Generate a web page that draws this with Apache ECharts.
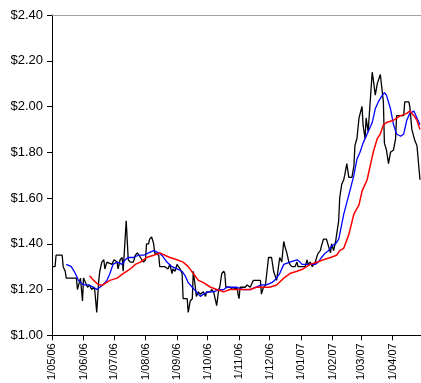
<!DOCTYPE html>
<html>
<head>
<meta charset="utf-8">
<script src="https://cdn.jsdelivr.net/npm/echarts@6/dist/echarts.min.js"></script>
<style>
  html, body { margin: 0; padding: 0; background: #fff; }
  #chart { width: 421px; height: 383px; }
</style>
</head>
<body>
<div id="chart"></div>
<script>
// Axis range (calendar days) and y scale
const firstDay = '2006-05-01';
const lastDay = '2007-04-29';
const yTicks = [1.00, 1.20, 1.40, 1.60, 1.80, 2.00, 2.20, 2.40];

// Daily price
const priceDates = [
  '2006-05-01','2006-05-04','2006-05-05','2006-05-11','2006-05-12','2006-05-14','2006-05-15','2006-05-25','2006-05-26','2006-05-29',
  '2006-05-31','2006-06-01','2006-06-03','2006-06-05','2006-06-07','2006-06-09','2006-06-11','2006-06-12','2006-06-14','2006-06-16',
  '2006-06-17','2006-06-19','2006-06-21','2006-06-22','2006-06-24','2006-06-29','2006-07-01','2006-07-04','2006-07-05','2006-07-07',
  '2006-07-09','2006-07-10','2006-07-13','2006-07-15','2006-07-17','2006-07-20','2006-07-22','2006-07-24','2006-07-27','2006-07-30',
  '2006-08-01','2006-08-02','2006-08-04','2006-08-05','2006-08-07','2006-08-09','2006-08-10','2006-08-14','2006-08-15','2006-08-20',
  '2006-08-23','2006-08-25','2006-08-27','2006-08-28','2006-08-30','2006-09-01','2006-09-04','2006-09-06','2006-09-07','2006-09-11',
  '2006-09-12','2006-09-14','2006-09-16','2006-09-17','2006-09-19','2006-09-20','2006-09-22','2006-09-24','2006-09-27','2006-09-29',
  '2006-09-30','2006-10-04','2006-10-05','2006-10-07','2006-10-08','2006-10-10','2006-10-12','2006-10-13','2006-10-15','2006-10-17',
  '2006-10-18','2006-10-19','2006-10-23','2006-10-26','2006-10-30','2006-10-31','2006-11-01','2006-11-02','2006-11-07','2006-11-09',
  '2006-11-12','2006-11-15','2006-11-22','2006-11-23','2006-11-25','2006-11-27','2006-11-28','2006-11-30','2006-12-03','2006-12-05',
  '2006-12-08','2006-12-11','2006-12-13','2006-12-15','2006-12-16','2006-12-18','2006-12-20','2006-12-21','2006-12-23','2006-12-26',
  '2006-12-28','2006-12-29','2007-01-05','2007-01-07','2007-01-08','2007-01-10','2007-01-12','2007-01-15','2007-01-17','2007-01-18',
  '2007-01-20','2007-01-21','2007-01-23','2007-01-26','2007-01-28','2007-01-30','2007-01-31','2007-02-02','2007-02-04','2007-02-05',
  '2007-02-07','2007-02-08','2007-02-10','2007-02-12','2007-02-13','2007-02-15','2007-02-17','2007-02-20','2007-02-22','2007-02-23',
  '2007-02-25','2007-02-27','2007-02-28','2007-03-02','2007-03-03','2007-03-05','2007-03-06','2007-03-07','2007-03-08','2007-03-10',
  '2007-03-12','2007-03-13','2007-03-15','2007-03-17','2007-03-18','2007-03-20','2007-03-21','2007-03-23','2007-03-24','2007-03-26',
  '2007-03-28','2007-03-30','2007-03-31','2007-04-02','2007-04-04','2007-04-05','2007-04-09','2007-04-12','2007-04-13','2007-04-17',
  '2007-04-18','2007-04-20','2007-04-23','2007-04-25','2007-04-28'
];
const priceValues = [
  1.30,1.30,1.35,1.35,1.30,1.28,1.25,1.25,1.20,1.25,
  1.15,1.25,1.23,1.21,1.22,1.20,1.21,1.20,1.10,1.24,
  1.28,1.32,1.33,1.29,1.32,1.31,1.33,1.32,1.29,1.33,
  1.34,1.28,1.50,1.33,1.32,1.32,1.35,1.36,1.34,1.32,
  1.33,1.40,1.40,1.42,1.43,1.40,1.36,1.35,1.30,1.30,
  1.29,1.31,1.27,1.29,1.28,1.31,1.29,1.27,1.16,1.16,
  1.10,1.15,1.16,1.28,1.21,1.17,1.19,1.18,1.19,1.17,
  1.19,1.19,1.20,1.19,1.19,1.13,1.20,1.21,1.27,1.28,
  1.27,1.21,1.21,1.20,1.21,1.18,1.16,1.21,1.21,1.22,
  1.21,1.24,1.24,1.18,1.21,1.22,1.22,1.34,1.34,1.28,
  1.24,1.34,1.32,1.41,1.39,1.36,1.32,1.31,1.30,1.30,
  1.32,1.30,1.30,1.33,1.31,1.32,1.30,1.32,1.35,1.36,
  1.37,1.39,1.42,1.42,1.39,1.36,1.40,1.37,1.41,1.44,
  1.50,1.60,1.66,1.68,1.70,1.75,1.69,1.69,1.74,1.83,
  1.86,1.95,1.95,2.00,1.92,1.86,1.95,1.92,1.89,2.02,
  2.15,2.12,2.05,2.10,2.10,2.14,2.14,2.02,1.84,1.81,
  1.75,1.80,1.80,1.81,1.86,1.96,1.96,1.96,2.02,2.02,
  2.00,1.90,1.85,1.83,1.68
];

// Short moving average
const shortAvgDates = [
  '2006-05-15','2006-05-20','2006-05-24','2006-05-27','2006-06-01','2006-06-06','2006-06-11','2006-06-14','2006-06-17','2006-06-20',
  '2006-06-24','2006-06-27','2006-06-30','2006-07-04','2006-07-09','2006-07-12','2006-07-15','2006-07-20','2006-07-25','2006-07-30',
  '2006-08-04','2006-08-09','2006-08-14','2006-08-17','2006-08-22','2006-08-27','2006-09-01','2006-09-06','2006-09-09','2006-09-12',
  '2006-09-16','2006-09-20','2006-09-24','2006-09-27','2006-10-02','2006-10-07','2006-10-12','2006-10-17','2006-10-20','2006-10-25',
  '2006-10-30','2006-11-05','2006-11-12','2006-11-17','2006-11-23','2006-11-28','2006-12-03','2006-12-06','2006-12-11','2006-12-15',
  '2006-12-21','2006-12-28','2006-12-31','2007-01-02','2007-01-10','2007-01-15','2007-01-18','2007-01-21','2007-01-25','2007-01-28',
  '2007-01-31','2007-02-04','2007-02-07','2007-02-08','2007-02-12','2007-02-15','2007-02-18','2007-02-22','2007-02-25','2007-02-28',
  '2007-03-03','2007-03-08','2007-03-12','2007-03-15','2007-03-18','2007-03-22','2007-03-24','2007-03-26','2007-03-30','2007-04-02',
  '2007-04-05','2007-04-09','2007-04-12','2007-04-15','2007-04-18','2007-04-22','2007-04-25','2007-04-28'
];
const shortAvgValues = [
  1.31,1.30,1.27,1.24,1.22,1.22,1.21,1.20,1.21,1.22,
  1.24,1.27,1.31,1.32,1.31,1.33,1.34,1.34,1.35,1.35,
  1.36,1.37,1.36,1.35,1.32,1.30,1.29,1.28,1.26,1.23,
  1.21,1.19,1.17,1.18,1.19,1.19,1.20,1.20,1.21,1.21,
  1.21,1.20,1.20,1.21,1.22,1.22,1.23,1.24,1.27,1.31,
  1.32,1.33,1.32,1.31,1.31,1.31,1.32,1.34,1.36,1.37,
  1.39,1.40,1.42,1.44,1.53,1.58,1.63,1.70,1.77,1.80,
  1.84,1.89,1.93,1.99,2.02,2.05,2.06,2.05,1.99,1.92,
  1.88,1.87,1.88,1.94,1.97,1.98,1.95,1.92
];

// Long moving average
const longAvgDates = [
  '2006-06-07','2006-06-11','2006-06-16','2006-06-20','2006-06-27','2006-07-04','2006-07-10','2006-07-17','2006-07-22','2006-07-27',
  '2006-08-02','2006-08-09','2006-08-15','2006-08-20','2006-08-25','2006-09-01','2006-09-07','2006-09-12','2006-09-17','2006-09-22',
  '2006-09-27','2006-10-04','2006-10-10','2006-10-17','2006-10-23','2006-11-05','2006-11-12','2006-11-18','2006-11-25','2006-12-01',
  '2006-12-08','2006-12-15','2006-12-21','2006-12-28','2007-01-03','2007-01-10','2007-01-17','2007-01-23','2007-01-30','2007-02-05',
  '2007-02-08','2007-02-12','2007-02-17','2007-02-22','2007-02-27','2007-03-02','2007-03-07','2007-03-10','2007-03-13','2007-03-17',
  '2007-03-20','2007-03-23','2007-03-26','2007-04-02','2007-04-09','2007-04-15','2007-04-18','2007-04-22','2007-04-25','2007-04-28'
];
const longAvgValues = [
  1.26,1.24,1.22,1.22,1.24,1.25,1.27,1.29,1.31,1.32,
  1.34,1.35,1.36,1.35,1.34,1.33,1.32,1.30,1.27,1.24,
  1.23,1.21,1.20,1.19,1.20,1.20,1.20,1.21,1.21,1.21,
  1.22,1.25,1.27,1.28,1.29,1.31,1.32,1.33,1.34,1.35,
  1.37,1.38,1.44,1.53,1.57,1.63,1.68,1.74,1.80,1.86,
  1.88,1.92,1.93,1.94,1.96,1.97,1.98,1.96,1.94,1.90
];

// Calendar of days for the category axis
function buildDays(from, to) {
  const out = [];
  const p = s => s.split('-').map(Number);
  const [y0, m0, d0] = p(from);
  const [y1, m1, d1] = p(to);
  let t = Date.UTC(y0, m0 - 1, d0);
  const end = Date.UTC(y1, m1 - 1, d1);
  while (t <= end) {
    const d = new Date(t);
    out.push(d.getUTCFullYear() + '-' + String(d.getUTCMonth() + 1).padStart(2, '0') + '-' + String(d.getUTCDate()).padStart(2, '0'));
    t += 86400000;
  }
  return out;
}
const days = buildDays(firstDay, lastDay);

const zip = (a, b) => a.map((d, i) => [d, b[i]]);
const isMonthStart = (idx, val) => val.slice(8) === '01';
const fmtDay = v => {
  const [y, m, d] = v.split('-');
  return (+d) + '/' + m + '/' + y.slice(2);
};

const chart = echarts.init(document.getElementById('chart'), null, { renderer: 'canvas' });
chart.setOption({
  animation: false,
  backgroundColor: '#ffffff',
  grid: { left: 52, right: 0, top: 15, bottom: 45 },
  xAxis: [{
    type: 'category',
    data: days,
    boundaryGap: false,
    axisLine: { show: true, lineStyle: { color: '#000', width: 1 } },
    axisTick: { show: true, length: 5, interval: isMonthStart, lineStyle: { color: '#000' } },
    axisLabel: {
      interval: isMonthStart,
      rotate: 90,
      margin: 8,
      formatter: fmtDay,
      color: '#000',
      fontFamily: 'Liberation Sans, Arial, sans-serif',
      fontSize: 11
    },
    splitLine: { show: false }
  }, {
    type: 'value',
    position: 'top',
    min: 0, max: 1,
    axisLine: { show: true, lineStyle: { color: '#a0a0a0', width: 1 } },
    axisTick: { show: false },
    axisLabel: { show: false },
    splitLine: { show: false }
  }],
  yAxis: {
    type: 'value',
    min: yTicks[0],
    max: yTicks[yTicks.length - 1],
    interval: 0.2,
    axisLine: { show: true, lineStyle: { color: '#000', width: 1 } },
    axisTick: { show: true, length: 5, lineStyle: { color: '#000' } },
    axisLabel: {
      margin: 9,
      formatter: v => '$' + v.toFixed(2),
      color: '#000',
      fontFamily: 'Liberation Sans, Arial, sans-serif',
      fontSize: 13
    },
    splitLine: { show: false }
  },
  series: [
    {
      name: 'Price', type: 'line', xAxisIndex: 0,
      data: zip(priceDates, priceValues),
      showSymbol: false, symbol: 'none',
      lineStyle: { color: '#000000', width: 1.3 },
      z: 2
    },
    {
      name: 'Short average', type: 'line', xAxisIndex: 0,
      data: zip(shortAvgDates, shortAvgValues),
      showSymbol: false, symbol: 'none',
      lineStyle: { color: '#0000ff', width: 1.3 },
      z: 3
    },
    {
      name: 'Long average', type: 'line', xAxisIndex: 0,
      data: zip(longAvgDates, longAvgValues),
      showSymbol: false, symbol: 'none',
      lineStyle: { color: '#ff0000', width: 1.5 },
      z: 4
    }
  ]
});
</script>
</body>
</html>
